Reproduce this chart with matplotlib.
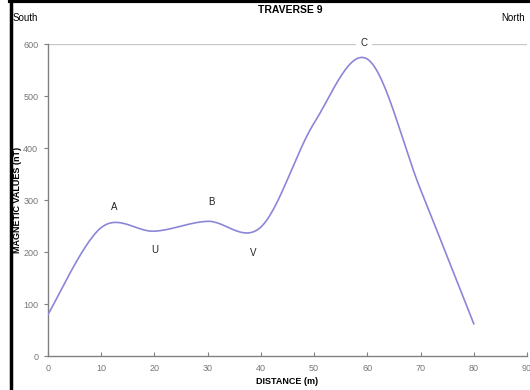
import matplotlib
matplotlib.use("Agg")
import matplotlib.pyplot as plt
import numpy as np
from matplotlib.lines import Line2D

# magnetic traverse readings (every 10 m)
distance_m = [0, 10, 20, 30, 40, 50, 60, 70, 80]
magnetic_nt = [80, 247, 240, 259, 248, 448, 571, 320, 62]

# anomaly labels: (text, distance, value)
label_text = ["A", "U", "B", "V", "C"]
label_x = [12.4, 20.1, 30.8, 38.5, 59.4]
label_y = [287, 204, 296, 198, 602]

LINE = "#8b86d8"
GREY = "#808080"
TICK = "#777777"


def smooth(x, y, n=30):
    # Excel-style smoothed line (Catmull-Rom through the points)
    x = np.asarray(x, float)
    y = np.asarray(y, float)
    px = np.r_[x[0], x, x[-1]]
    py = np.r_[y[0], y, y[-1]]
    xs, ys = [], []
    t = np.linspace(0, 1, n)
    for i in range(1, len(px) - 2):
        p0, p1, p2, p3 = (np.array([px[j], py[j]]) for j in range(i - 1, i + 3))
        c1 = p1 + (p2 - p0) / 6
        c2 = p2 - (p3 - p1) / 6
        b = ((1 - t) ** 3)[:, None] * p1 + (3 * (1 - t) ** 2 * t)[:, None] * c1 \
            + (3 * (1 - t) * t ** 2)[:, None] * c2 + (t ** 3)[:, None] * p2
        xs.extend(b[:, 0])
        ys.extend(b[:, 1])
    return np.array(xs), np.array(ys)


plt.rcParams["font.family"] = ["Liberation Sans", "DejaVu Sans"]

fig = plt.figure(figsize=(5.3, 3.9), dpi=100)
ax = fig.add_axes([48 / 530, 34 / 390, 479 / 530, 312 / 390])

sx, sy = smooth(distance_m, magnetic_nt)
ax.plot(sx, sy, color=LINE, lw=1.2, zorder=3)

ax.set_xlim(0, 90)
ax.set_ylim(0, 600)
ax.set_xticks(range(0, 91, 10))
ax.set_yticks(range(0, 601, 100))
ax.axhline(600, color="#c8c8c8", lw=1.0, zorder=1)

for s in ["top", "right"]:
    ax.spines[s].set_visible(False)
for s in ["left", "bottom"]:
    ax.spines[s].set_color(GREY)
    ax.spines[s].set_linewidth(1.0)
ax.tick_params(axis="y", direction="out", length=3, color=GREY,
               labelsize=6.5, labelcolor=TICK, pad=4)
ax.tick_params(axis="x", direction="in", length=3, color=GREY,
               labelsize=6.5, labelcolor=TICK, pad=6)

ax.set_xlabel("DISTANCE (m)", fontsize=6.5, fontweight="bold", labelpad=3)
ax.set_ylabel("MAGNETIC VALUES (nT)", fontsize=6.5, fontweight="bold")
ax.yaxis.set_label_coords((22 - 48) / 479, 0.5)

for t, x, y in zip(label_text, label_x, label_y):
    kw = {}
    if t == "C":
        kw["bbox"] = dict(facecolor="white", edgecolor="none", pad=3)
    ax.text(x, y, t, ha="center", va="center", fontsize=7, color="#222222",
            zorder=4, clip_on=False, **kw)

fig.text(290 / 530, 1 - 10 / 390, "TRAVERSE 9", ha="center", va="center",
         fontsize=7.5, fontweight="bold")
fig.text(13 / 530, 1 - 18 / 390, "South", ha="left", va="center", fontsize=7)
fig.text(525 / 530, 1 - 18 / 390, "North", ha="right", va="center", fontsize=7)

# chart frame edge visible at top and left
fig.add_artist(Line2D([11 / 530, 11 / 530], [0, 1], color="black", lw=2.5,
                      transform=fig.transFigure))
fig.add_artist(Line2D([10 / 530, 1], [1 - 1 / 390, 1 - 1 / 390], color="black",
                      lw=3, transform=fig.transFigure))

fig.savefig("out.png", dpi=100)
